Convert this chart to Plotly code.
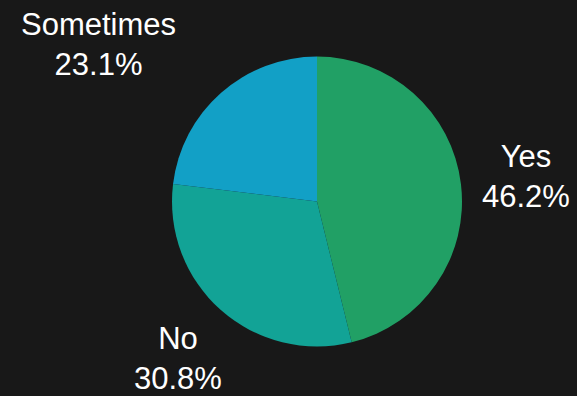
import math
import plotly.graph_objects as go

labels = ["Yes", "No", "Sometimes"]
values = [6, 4, 3]
colors = ["#21a065", "#12a396", "#12a0c6"]

W, H = 577, 396
FONT = 31
# pie geometry (pixels): centre and radius
CX, CY, R = 317, 201.5, 145
LABEL_R = 1.45 * R  # distance of label centres from pie centre

fig = go.Figure(go.Pie(
    labels=labels,
    values=values,
    sort=False,
    direction="clockwise",
    rotation=0,
    marker=dict(colors=colors, line=dict(width=0)),
    textinfo="none",
    showlegend=False,
    hoverinfo="skip",
    domain=dict(x=[(CX - R) / W, (CX + R) / W], y=[1 - (CY + R) / H, 1 - (CY - R) / H]),
))

total = sum(values)
cum = 0
for lab, v in zip(labels, values):
    mid = 2 * math.pi * (cum + v / 2) / total
    cum += v
    ux, uy = math.sin(mid), -math.cos(mid)
    px, py = CX + LABEL_R * ux, CY + LABEL_R * uy
    pct = f"{100 * v / total:.1f}%"
    # estimated half-size of the text block
    hw = 0.5 * 0.56 * FONT * max(len(lab), len(pct))
    hh = 1.15 * FONT
    # push label sideways if its box would overlap the pie
    xanchor = "center"
    ny = min(abs(py - hh - CY), abs(py + hh - CY)) if not (py - hh < CY < py + hh) else 0
    if ny < R:
        reach = math.sqrt(R * R - ny * ny)
        if ux < 0 and px + hw > CX - reach:
            xanchor = "right"
        elif ux > 0 and px - hw < CX + reach:
            xanchor = "left"
    fig.add_annotation(
        x=px / W, y=1 - py / H, xref="paper", yref="paper",
        text=f"{lab}<br>{pct}", showarrow=False,
        xanchor=xanchor, yanchor="middle", align="center",
        font=dict(family="Liberation Sans, Arial, sans-serif", size=FONT, color="#ffffff"),
    )

fig.update_layout(
    width=W, height=H,
    paper_bgcolor="#181818",
    plot_bgcolor="#181818",
    margin=dict(l=0, r=0, t=0, b=0),
)
fig.write_html("out.html")
